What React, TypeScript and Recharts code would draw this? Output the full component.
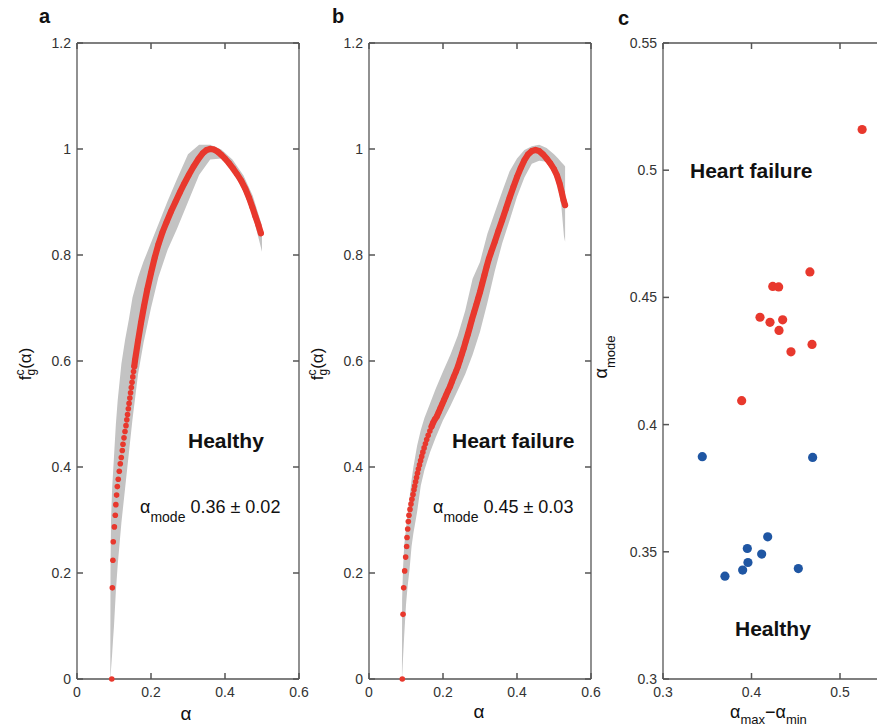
import React from 'react';
import { ComposedChart, Area, Line, Scatter, XAxis, YAxis, ReferenceLine } from 'recharts';

// panel a: healthy, grey band (lo/hi at each alpha) + red mean curve
const bandAX = [0.09, 0.0905, 0.092, 0.095, 0.0975, 0.1, 0.105, 0.11, 0.12, 0.13, 0.14, 0.15, 0.165, 0.18, 0.2, 0.22, 0.245, 0.27, 0.3, 0.33, 0.36, 0.39, 0.42, 0.45, 0.475, 0.5];
const bandAHi = [0, 0.2, 0.3, 0.36, 0.39, 0.42, 0.48, 0.526, 0.595, 0.64, 0.678, 0.72, 0.758, 0.788, 0.823, 0.858, 0.902, 0.943, 0.99, 1.008, 1.008, 0.999, 0.98, 0.95, 0.912, 0.855];
const bandALo = [0, 0, 0.019, 0.047, 0.075, 0.1, 0.165, 0.215, 0.295, 0.36, 0.425, 0.49, 0.575, 0.635, 0.7, 0.758, 0.81, 0.849, 0.9, 0.951, 0.98, 0.982, 0.96, 0.92, 0.875, 0.806];
const curveAX = [0.094, 0.0955, 0.097, 0.098, 0.101, 0.1035, 0.105, 0.107, 0.109, 0.1115, 0.1143, 0.117, 0.1197, 0.1224, 0.1243, 0.127, 0.1297, 0.1324, 0.1346, 0.1366, 0.1388, 0.1408, 0.1428, 0.1448, 0.1468, 0.1488, 0.1508, 0.1528, 0.1548, 0.157, 0.165, 0.173, 0.181, 0.19, 0.2, 0.21, 0.22, 0.231, 0.242, 0.254, 0.266, 0.278, 0.29, 0.302, 0.315, 0.328, 0.34, 0.35, 0.36, 0.37, 0.38, 0.39, 0.4, 0.411, 0.422, 0.433, 0.444, 0.455, 0.465, 0.474, 0.482, 0.49, 0.497];
const curveAY = [0, 0.172, 0.224, 0.259, 0.287, 0.309, 0.329, 0.347, 0.363, 0.377, 0.392, 0.406, 0.418, 0.431, 0.443, 0.455, 0.467, 0.478, 0.489, 0.499, 0.51, 0.52, 0.53, 0.54, 0.55, 0.56, 0.57, 0.58, 0.59, 0.602, 0.638, 0.672, 0.703, 0.735, 0.766, 0.795, 0.82, 0.843, 0.862, 0.882, 0.9, 0.918, 0.935, 0.951, 0.967, 0.981, 0.992, 0.998, 1.0, 0.999, 0.995, 0.989, 0.982, 0.973, 0.963, 0.952, 0.94, 0.925, 0.908, 0.89, 0.873, 0.857, 0.841];

// panel b: heart failure
const bandBX = [0.089, 0.0895, 0.092, 0.095, 0.1, 0.104, 0.11, 0.115, 0.12, 0.13, 0.14, 0.15, 0.165, 0.18, 0.2, 0.22, 0.24, 0.26, 0.28, 0.3, 0.32, 0.34, 0.36, 0.38, 0.4, 0.42, 0.44, 0.46, 0.48, 0.5, 0.51, 0.52, 0.527, 0.53];
const bandBHi = [0, 0.15, 0.21, 0.25, 0.285, 0.31, 0.345, 0.375, 0.4, 0.44, 0.47, 0.493, 0.52, 0.547, 0.58, 0.612, 0.648, 0.695, 0.755, 0.787, 0.84, 0.88, 0.92, 0.958, 0.982, 0.998, 1.005, 1.008, 1.002, 0.99, 0.983, 0.975, 0.97, 0.967];
const bandBLo = [0, 0.003, 0.04, 0.08, 0.14, 0.172, 0.21, 0.25, 0.275, 0.315, 0.365, 0.395, 0.428, 0.455, 0.488, 0.515, 0.545, 0.575, 0.612, 0.655, 0.71, 0.77, 0.822, 0.865, 0.91, 0.946, 0.972, 0.978, 0.976, 0.955, 0.935, 0.891, 0.835, 0.825];
const curveBX = [0.09, 0.092, 0.0937, 0.0964, 0.0991, 0.1018, 0.1027, 0.1046, 0.1063, 0.108, 0.1108, 0.1135, 0.116, 0.119, 0.1216, 0.1235, 0.126, 0.1285, 0.131, 0.1335, 0.1365, 0.1395, 0.1425, 0.1455, 0.149, 0.1525, 0.156, 0.16, 0.1645, 0.169, 0.1735, 0.178, 0.183, 0.188, 0.193, 0.198, 0.203, 0.208, 0.213, 0.219, 0.224, 0.229, 0.235, 0.24, 0.246, 0.251, 0.256, 0.261, 0.267, 0.273, 0.278, 0.284, 0.29, 0.295, 0.3, 0.306, 0.312, 0.318, 0.324, 0.33, 0.34, 0.35, 0.36, 0.37, 0.38, 0.39, 0.4, 0.41, 0.42, 0.43, 0.44, 0.45, 0.46, 0.47, 0.48, 0.49, 0.5, 0.508, 0.515, 0.521, 0.526, 0.53];
const curveBY = [0, 0.122, 0.172, 0.204, 0.23, 0.25, 0.267, 0.283, 0.297, 0.309, 0.32, 0.33, 0.339, 0.348, 0.357, 0.364, 0.372, 0.38, 0.388, 0.396, 0.404, 0.412, 0.42, 0.428, 0.436, 0.444, 0.452, 0.46, 0.468, 0.476, 0.484, 0.49, 0.495, 0.503, 0.511, 0.519, 0.527, 0.535, 0.543, 0.552, 0.561, 0.57, 0.58, 0.589, 0.602, 0.613, 0.624, 0.636, 0.65, 0.665, 0.678, 0.692, 0.706, 0.718, 0.73, 0.746, 0.762, 0.778, 0.793, 0.805, 0.825, 0.846, 0.866, 0.887, 0.908, 0.928, 0.947, 0.964, 0.979, 0.99, 0.996, 0.998, 0.996, 0.99, 0.982, 0.973, 0.962, 0.95, 0.935, 0.918, 0.903, 0.894];

// panel c: alpha_mode vs alpha_max - alpha_min
const hfX = [0.525, 0.466, 0.424, 0.4307, 0.4096, 0.4209, 0.4352, 0.4311, 0.4446, 0.4684, 0.3889];
const hfY = [0.516, 0.46, 0.4543, 0.4541, 0.4422, 0.4402, 0.4412, 0.437, 0.4286, 0.4315, 0.4094];
const hX = [0.3444, 0.4691, 0.4183, 0.3953, 0.4115, 0.396, 0.39, 0.37, 0.4529];
const hY = [0.3874, 0.3871, 0.3559, 0.3513, 0.3491, 0.3458, 0.3428, 0.3404, 0.3434];

const fTicks = [0, 0.2, 0.4, 0.6, 0.8, 1, 1.2];
const aTicks = [0, 0.2, 0.4, 0.6];
const cxTicks = [0.3, 0.4, 0.5];
const cyTicks = [0.3, 0.35, 0.4, 0.45, 0.5, 0.55];

const RED = '#e8382d';
const BLUE = '#1f56a3';
const GREY = '#c3c3c3';
const AXIS = '#555';
const FONT = '"Liberation Sans", Arial, Helvetica, sans-serif';
const TICK_PX = 6;
const PLOT_H = 636;

const lineStyle = { stroke: AXIS, strokeWidth: 1.3 };
const textStyle = { fill: '#333', fontSize: 14, fontFamily: FONT };

const pts = (xs: number[], ys: number[]) => xs.map((x, i) => ({ x, y: ys[i] }));
const band = (xs: number[], lo: number[], hi: number[]) => xs.map((x, i) => ({ x, band: [lo[i], hi[i]] }));

const dot = (r: number, fill: string) => (p: any) => <circle cx={p.cx} cy={p.cy} r={r} fill={fill} />;

// box axes, labels on bottom/left only
function frame(xd: number[], xt: number[], yd: number[], yt: number[]) {
  return [
    <XAxis key="xb" type="number" dataKey="x" domain={xd} ticks={xt} interval={0} height={30}
      tickSize={0} tickMargin={8} axisLine={lineStyle} tickLine={false} tick={textStyle} />,
    <XAxis key="xt" xAxisId="t" orientation="top" type="number" domain={xd} height={10}
      tick={false} tickLine={false} axisLine={lineStyle} />,
    <YAxis key="yl" type="number" dataKey="y" domain={yd} ticks={yt} interval={0} width={40}
      tickSize={0} tickMargin={6} axisLine={lineStyle} tickLine={false} tick={textStyle} />,
    <YAxis key="yr" yAxisId="r" orientation="right" type="number" domain={yd} width={10}
      tick={false} tickLine={false} axisLine={lineStyle} />,
  ];
}

// MATLAB style inward ticks on all four sides
function inTicks(xd: number[], xt: number[], yd: number[], yt: number[], pw: number) {
  const dx = (TICK_PX / pw) * (xd[1] - xd[0]);
  const dy = (TICK_PX / PLOT_H) * (yd[1] - yd[0]);
  const segs: any[] = [];
  xt.forEach((x) => {
    segs.push([{ x, y: yd[0] }, { x, y: yd[0] + dy }]);
    segs.push([{ x, y: yd[1] }, { x, y: yd[1] - dy }]);
  });
  yt.forEach((y) => {
    segs.push([{ x: xd[0], y }, { x: xd[0] + dx, y }]);
    segs.push([{ x: xd[1], y }, { x: xd[1] - dx, y }]);
  });
  return segs.map((s, i) => (
    <ReferenceLine key={'tk' + i} segment={s} stroke={AXIS} strokeWidth={1.5} ifOverflow="visible" />
  ));
}

function CurvePanel({ left, ml, mr, bx, lo, hi, cx, cy, lineFrom }: any) {
  const curve = pts(cx, cy);
  return (
    <div style={{ position: 'absolute', left, top: 0 }}>
      <ComposedChart width={310} height={728} data={band(bx, lo, hi)}
        margin={{ top: 33, right: mr, bottom: 19, left: ml }}>
        {frame([0, 0.6], aTicks, [0, 1.2], fTicks)}
        <Area type="linear" dataKey="band" fill={GREY} fillOpacity={1} stroke="none" isAnimationActive={false} />
        <Line data={curve.slice(lineFrom)} type="linear" dataKey="y" stroke={RED} strokeWidth={6.2}
          strokeLinecap="round" dot={false} activeDot={false} isAnimationActive={false} />
        <Scatter data={curve} dataKey="y" fill={RED} shape={dot(2.8, RED)} isAnimationActive={false} />
        {inTicks([0, 0.6], aTicks, [0, 1.2], fTicks, 222)}
      </ComposedChart>
    </div>
  );
}

export default function App() {
  const t = { fontFamily: FONT, fill: '#111' };
  return (
    <div style={{ position: 'fixed', left: 0, top: 0, width: 877, height: 728, overflow: 'hidden', background: '#fff' }}>
      <CurvePanel left={0} ml={37} mr={1} bx={bandAX} lo={bandALo} hi={bandAHi} cx={curveAX} cy={curveAY} lineFrom={28} />
      <CurvePanel left={300} ml={29} mr={9} bx={bandBX} lo={bandBLo} hi={bandBHi} cx={curveBX} cy={curveBY} lineFrom={29} />
      <div style={{ position: 'absolute', left: 600, top: 0 }}>
        <ComposedChart width={340} height={728} margin={{ top: 33, right: 1.5, bottom: 19, left: 23 }}>
          {frame([0.3, 0.6], cxTicks, [0.3, 0.55], cyTicks)}
          <Scatter data={pts(hfX, hfY)} dataKey="y" fill={RED} shape={dot(4.6, RED)} isAnimationActive={false} />
          <Scatter data={pts(hX, hY)} dataKey="y" fill={BLUE} shape={dot(4.6, BLUE)} isAnimationActive={false} />
          {inTicks([0.3, 0.6], cxTicks, [0.3, 0.55], cyTicks, 265.5)}
        </ComposedChart>
      </div>
      <svg width={877} height={728} style={{ position: 'absolute', left: 0, top: 0, pointerEvents: 'none' }}>
        <g fontWeight="bold" fontSize={20}>
          <text x={39} y={23} {...t}>a</text>
          <text x={332} y={23} {...t}>b</text>
          <text x={618} y={25} {...t}>c</text>
        </g>
        <g fontWeight="bold" fontSize={21}>
          <text x={188} y={448} {...t}>Healthy</text>
          <text x={452} y={448} {...t}>Heart failure</text>
          <text x={690} y={178} {...t}>Heart failure</text>
          <text x={735} y={636} {...t}>Healthy</text>
        </g>
        <text x={140} y={513} fontSize={18} {...t}>α<tspan fontSize={14} dy={9}>mode</tspan><tspan dy={-9} fontSize={18}> 0.36 ± 0.02</tspan></text>
        <text x={433} y={513} fontSize={18} {...t}>α<tspan fontSize={14} dy={9}>mode</tspan><tspan dy={-9} fontSize={18}> 0.45 ± 0.03</tspan></text>
        <text x={186} y={720} fontSize={19} textAnchor="middle" {...t}>α</text>
        <text x={479} y={718} fontSize={19} textAnchor="middle" {...t}>α</text>
        <text x={730} y={718} fontSize={18} {...t}>α<tspan fontSize={13} dy={6}>max</tspan><tspan dy={-6} fontSize={18}>−α</tspan><tspan fontSize={13} dy={6}>min</tspan></text>
        {[31, 323].map((x) => (
          <text key={x} transform={`translate(${x},364) rotate(-90)`} textAnchor="middle" fontSize={17} {...t}>
            f<tspan fontSize={12} dy={-7}>c</tspan><tspan fontSize={12} dx={-6} dy={11}>g</tspan><tspan dy={-4}>(α)</tspan>
          </text>
        ))}
        <text transform="translate(607,357) rotate(-90)" textAnchor="middle" fontSize={18} {...t}>α<tspan fontSize={13} dy={8}>mode</tspan></text>
      </svg>
    </div>
  );
}
